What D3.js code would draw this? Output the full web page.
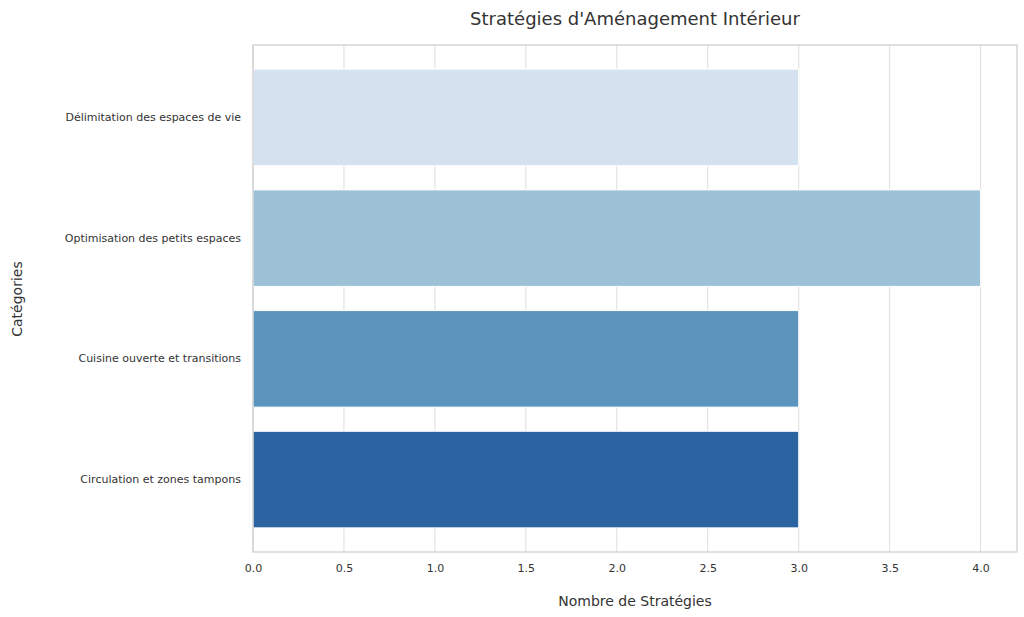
<!DOCTYPE html>
<html><head><meta charset="utf-8">
<script src="https://cdn.jsdelivr.net/npm/d3@7"></script>
<style>body{margin:0;background:#fff;font-family:"DejaVu Sans",sans-serif}</style>
</head><body><svg id="c" width="1024" height="617"></svg>
<script>
const categories=["Délimitation des espaces de vie","Optimisation des petits espaces","Cuisine ouverte et transitions","Circulation et zones tampons"];
const values=[3,4,3,3];
const colors=["#d4e2f0","#9dc2d8","#5b94bc","#2b64a0"];
const ticks=[0,0.5,1,1.5,2,2.5,3,3.5,4];
const svg=d3.select("#c");
const L=253,R=1017,T=45,B=552;
const x=d3.scaleLinear().domain([0,4.2]).range([L,R]);
const y=d3.scaleBand().domain(categories).range([T,B]).padding(0.2);
const g=svg.append("g");
g.selectAll(".gl").data(ticks).join("line").attr("x1",d=>x(d)).attr("x2",d=>x(d)).attr("y1",T).attr("y2",B).attr("stroke","#dddddd").attr("stroke-width",1);
g.selectAll(".b").data(values).join("rect").attr("x",x(0)).attr("y",(d,i)=>y(categories[i])).attr("width",d=>x(d)-x(0)).attr("height",y.bandwidth()).attr("fill",(d,i)=>colors[i]).attr("stroke","#fff").attr("stroke-width",1);
svg.append("rect").attr("x",L).attr("y",T).attr("width",R-L).attr("height",B-T).attr("fill","none").attr("stroke","#cccccc").attr("stroke-width",1.2);
const xa=svg.append("g").attr("transform",`translate(0,${B})`).call(d3.axisBottom(x).tickValues(ticks).tickFormat(d3.format(".1f")).tickSize(0).tickPadding(12));
xa.select(".domain").remove();
xa.selectAll("text").attr("font-size",11).attr("fill","#333").attr("font-family","DejaVu Sans");
const ya=svg.append("g").attr("transform",`translate(${L},0)`).call(d3.axisLeft(y).tickSize(0).tickPadding(12));
ya.select(".domain").remove();
ya.selectAll("text").attr("font-size",11).attr("fill","#333").attr("font-family","DejaVu Sans");
svg.append("text").attr("x",635).attr("y",25).attr("text-anchor","middle").attr("font-size",18).attr("fill","#333").text("Stratégies d'Aménagement Intérieur");
svg.append("text").attr("x",635).attr("y",606).attr("text-anchor","middle").attr("font-size",14).attr("fill","#333").text("Nombre de Stratégies");
svg.append("text").attr("transform","translate(22,299) rotate(-90)").attr("text-anchor","middle").attr("font-size",14).attr("fill","#333").text("Catégories");
</script></body></html>
